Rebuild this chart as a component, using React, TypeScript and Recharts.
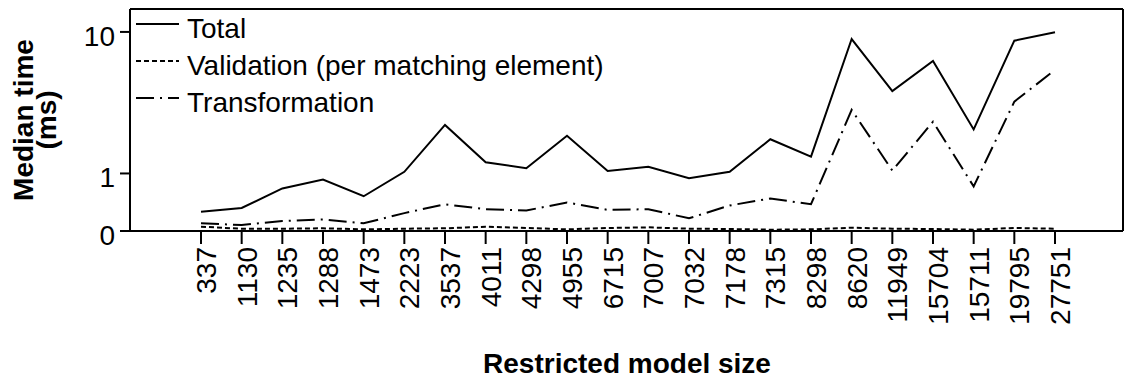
import { LineChart, Line, XAxis, YAxis, Legend, Label } from "recharts";

const sizes = [
  "337", "1130", "1235", "1288", "1473", "2223", "3537", "4011", "4298", "4955", "6715",
  "7007", "7032", "7178", "7315", "8298", "8620", "11949", "15704", "15711", "19795", "27751",
];
const total = [
  0.26, 0.32, 0.67, 0.86, 0.52, 1.04, 2.59, 1.29, 1.13, 2.15, 1.06,
  1.17, 0.89, 1.04, 2.02, 1.45, 9.1, 4.4, 6.75, 2.4, 8.9, 9.96,
];
const validation = [
  0.053, 0.028, 0.028, 0.033, 0.02, 0.028, 0.033, 0.053, 0.037, 0.02, 0.037,
  0.045, 0.028, 0.024, 0.016, 0.02, 0.04, 0.028, 0.024, 0.016, 0.037, 0.028,
];
const transformation = [
  0.097, 0.075, 0.128, 0.15, 0.097, 0.24, 0.38, 0.3, 0.28, 0.41, 0.29,
  0.3, 0.165, 0.36, 0.48, 0.38, 3.3, 1.07, 2.73, 0.71, 3.75, 5.96,
];
const yTicks = [0, 1, 10];

const data = sizes.map((size, i) => ({
  size,
  total: total[i],
  validation: validation[i],
  transformation: transformation[i],
}));

const FONT = "'Liberation Sans', Arial, sans-serif";
const DASH = "5 3";
const DASH_DOT = "18 6 2 6";

const XTick = (props: any) => {
  const { x, y, payload } = props;
  return (
    <text
      x={x}
      y={y}
      transform={`rotate(-90, ${x}, ${y})`}
      textAnchor="end"
      dy={15}
      fontSize={28}
      fontFamily={FONT}
      fill="#000"
    >
      {payload.value}
    </text>
  );
};

const YTick = (props: any) => {
  const { x, y, payload } = props;
  return (
    <text x={x} y={y} dy={14} textAnchor="end" fontSize={28} fontFamily={FONT} fill="#000">
      {payload.value}
    </text>
  );
};

const legendRows = [
  { label: "Total", dash: undefined as string | undefined, y: 24 },
  { label: "Validation (per matching element)", dash: DASH, y: 61 },
  { label: "Transformation", dash: DASH_DOT, y: 98 },
];

const ChartLegend = () => (
  <svg width={720} height={120} style={{ display: "block" }}>
    {legendRows.map((r) => (
      <g key={r.label}>
        <line x1={136} x2={179} y1={r.y} y2={r.y} stroke="#000" strokeWidth={2} strokeDasharray={r.dash} />
        <text x={187} y={r.y + 14} fontSize={28} fontFamily={FONT} fill="#000">
          {r.label}
        </text>
      </g>
    ))}
  </svg>
);

export default function App() {
  const axisStroke = { stroke: "#000", strokeWidth: 2 };
  return (
    <div style={{ position: "absolute", left: 0, top: 0, background: "#fff" }}>
      <LineChart width={1128} height={378} data={data} margin={{ top: 8, right: 4, bottom: 0, left: 0 }}>
        <XAxis
          dataKey="size"
          type="category"
          height={147}
          padding={{ left: 71, right: 68 }}
          interval={0}
          tick={<XTick />}
          tickSize={13}
          tickMargin={3}
          axisLine={axisStroke}
          tickLine={axisStroke}
        >
          <Label
            content={() => (
              <text x={627} y={373} textAnchor="middle" fontSize={28} fontWeight="bold" fontFamily={FONT} fill="#000">
                Restricted model size
              </text>
            )}
          />
        </XAxis>
        <XAxis
          xAxisId="top"
          dataKey="size"
          orientation="top"
          height={1}
          tick={false}
          tickLine={false}
          axisLine={axisStroke}
        />
        <YAxis
          type="number"
          scale="symlog"
          domain={[0, 13.5]}
          ticks={yTicks}
          allowDataOverflow
          width={130}
          tick={<YTick />}
          tickSize={10}
          tickMargin={5}
          axisLine={axisStroke}
          tickLine={axisStroke}
        >
          <Label
            content={() => (
              <text transform="rotate(-90)" textAnchor="middle" fontSize={28} fontWeight="bold" fontFamily={FONT} fill="#000">
                <tspan x={-120} y={33}>Median time</tspan>
                <tspan x={-120} y={56}>(ms)</tspan>
              </text>
            )}
          />
        </YAxis>
        <YAxis
          yAxisId="right"
          orientation="right"
          width={1}
          domain={[0, 1]}
          tick={false}
          tickLine={false}
          axisLine={axisStroke}
        />
        <Legend
          layout="vertical"
          align="center"
          verticalAlign="middle"
          content={() => <ChartLegend />}
          wrapperStyle={{ left: 0, top: 0, width: 720, height: 120 }}
        />
        <Line dataKey="total" stroke="#000" strokeWidth={2} dot={false} isAnimationActive={false} />
        <Line
          dataKey="validation"
          stroke="#000"
          strokeWidth={2}
          strokeDasharray={DASH}
          dot={false}
          isAnimationActive={false}
        />
        <Line
          dataKey="transformation"
          stroke="#000"
          strokeWidth={2}
          strokeDasharray={DASH_DOT}
          dot={false}
          isAnimationActive={false}
        />
      </LineChart>
    </div>
  );
}
